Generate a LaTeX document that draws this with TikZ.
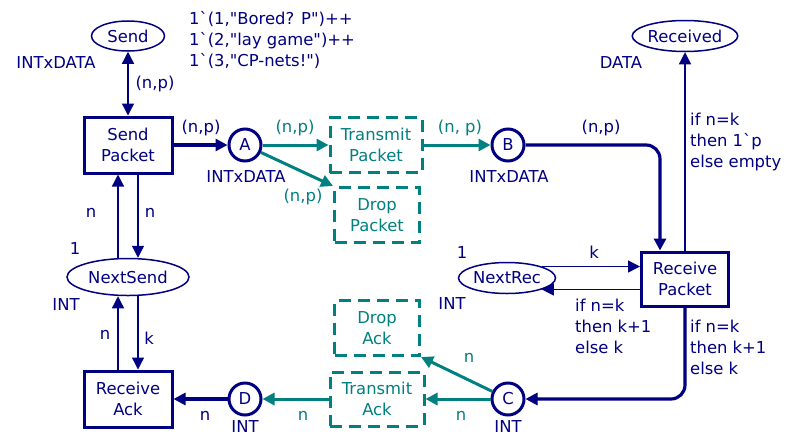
\documentclass[tikz,border=0pt]{standalone}
\usepackage{fontspec}
\setmainfont{DejaVu Sans}[Ligatures=TeXOff]
\usetikzlibrary{arrows.meta,shapes.geometric}
\definecolor{navyc}{RGB}{0,0,128}
\definecolor{tealc}{RGB}{0,128,128}
\begin{document}
\begin{tikzpicture}[x=1pt,y=-1pt,
  font=\fontsize{16.4}{21}\selectfont,
  every node/.style={text=navyc},
  place/.style={ellipse,draw=navyc,line width=1.5pt,inner sep=0pt},
  conn/.style={circle,draw=navyc,line width=3pt,minimum size=32pt,inner sep=0pt},
  trans/.style={rectangle,draw=navyc,line width=3pt,align=center,inner sep=0pt,minimum width=88pt,minimum height=56pt},
  dtrans/.style={rectangle,draw=tealc,line width=3pt,dash pattern=on 12pt off 7pt,align=center,inner sep=0pt,minimum height=55pt,text=tealc},
  lbl/.style={inner sep=0pt,text=navyc},
  tlbl/.style={inner sep=0pt,text=tealc},
  tip/.style={-{Triangle[length=12pt,width=12pt]}},
  thinarc/.style={draw=navyc,line width=1.3pt,tip},
  thickarc/.style={draw=navyc,line width=3.2pt,tip},
  tealarc/.style={draw=tealc,line width=3pt,tip},
]
\useasboundingbox (0,0) rectangle (791,437);

% places
\node[place,minimum width=73pt,minimum height=30pt] (Send) at (128,36) {Send};
\node[place,minimum width=104pt,minimum height=31pt] (Received) at (685,36) {Received};
\node[place,minimum width=122pt,minimum height=37pt] (NextSend) at (128,277) {NextSend};
\node[place,minimum width=97pt,minimum height=31pt] (NextRec) at (507,278) {NextRec};

\node[conn] (A) at (245,145) {A};
\node[conn] (B) at (508,145) {B};
\node[conn] (C) at (508,399) {C};
\node[conn] (D) at (245,399) {D};

% transitions
\node[trans] (SP) at (128,145) {Send\\Packet};
\node[trans] (RA) at (128,399) {Receive\\Ack};
\node[trans,minimum width=87pt,minimum height=54pt] (RP) at (685,279) {Receive\\Packet};
\node[dtrans,minimum width=92pt] (TP) at (376,145) {Transmit\\Packet};
\node[dtrans,minimum width=85pt] (DP) at (377,215) {Drop\\Packet};
\node[dtrans,minimum width=85pt] (DA) at (377,328) {Drop\\Ack};
\node[dtrans,minimum width=94pt,minimum height=54pt] (TA) at (377,399) {Transmit\\Ack};

% arcs
\draw[thinarc,{Triangle[length=12pt,width=12pt]}-{Triangle[length=12pt,width=12pt]}] (Send) -- (SP);
\draw[thickarc] (SP) -- (A);
\draw[tealarc] (A) -- (TP);
\draw[tealarc] (A) -- (DP.north west);
\draw[tealarc] (TP) -- (B);
\draw[thickarc,rounded corners=14pt] (B) -| ([xshift=-25pt]RP.north);
\draw[thinarc] (RP.north) -- (Received);
\draw[thinarc] (NextRec.north east) -- (NextRec.north east -| RP.west);
\draw[thinarc] (NextRec.south east -| RP.west) -- (NextRec.south east);
\draw[thickarc,rounded corners=14pt] (RP.south) |- (C);
\draw[tealarc] (C) -- (TA);
\draw[tealarc] (C) -- (DA.south east);
\draw[tealarc] (TA) -- (D);
\draw[thickarc] (D) -- (RA);
\draw[thinarc] ([xshift=-10pt]NextSend.north) -- ([xshift=-10pt]SP.south);
\draw[thinarc] ([xshift=10pt]SP.south) -- ([xshift=10pt]NextSend.north);
\draw[thinarc] ([xshift=-10pt]RA.north) -- ([xshift=-10pt]NextSend.south);
\draw[thinarc] ([xshift=10pt]NextSend.south) -- ([xshift=10pt]RA.north);

% labels
\node[lbl] (l1) at (56,63) {INTxDATA};
\node[lbl,anchor=west,align=left] (l2) at (189,40) {1`(1,"Bored? P")++\\1`(2,"lay game")++\\1`(3,"CP-nets!")};
\node[lbl] (l3) at (155,84) {(n,p)};
\node[lbl] (l4) at (201,128) {(n,p)};
\node[lbl] (l5) at (246,177) {INTxDATA};
\node[tlbl] (l6) at (295,128) {(n,p)};
\node[tlbl] (l7) at (303,197) {(n,p)};
\node[tlbl] (l8) at (460,128) {(n, p)};
\node[lbl] (l9) at (509,177) {INTxDATA};
\node[lbl] (l10) at (601,128) {(n,p)};
\node[lbl] (l11) at (621,63) {DATA};
\node[lbl,anchor=west,align=left] (l12) at (690,142) {if n=k\\then 1`p\\else empty};
\node[lbl] (l13) at (462,253) {1};
\node[lbl] (l14) at (594,252) {k};
\node[lbl] (l15) at (452,304) {INT};
\node[lbl,anchor=west,align=left] (l16) at (575,326) {if n=k\\then k+1\\else k};
\node[lbl,anchor=west,align=left] (l17) at (690,347) {if n=k\\then k+1\\else k};
\node[tlbl] (l18) at (469,358) {n};
\node[tlbl] (l19) at (461,416) {n};
\node[lbl] (l20) at (508,427) {INT};
\node[tlbl] (l21) at (303,416) {n};
\node[lbl] (l22) at (245,427) {INT};
\node[lbl] (l23) at (205,416) {n};
\node[lbl] (l24) at (91,213) {n};
\node[lbl] (l25) at (150,213) {n};
\node[lbl] (l26) at (75,249) {1};
\node[lbl] (l27) at (66,305) {INT};
\node[lbl] (l28) at (105,335) {n};
\node[lbl] (l29) at (149,338) {k};
\end{tikzpicture}
\end{document}
